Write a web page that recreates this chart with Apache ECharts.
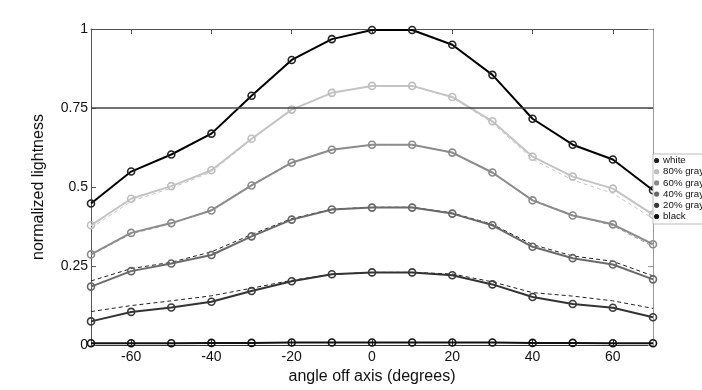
<!DOCTYPE html>
<html><head><meta charset="utf-8">
<script src="https://cdn.jsdelivr.net/npm/echarts@6/dist/echarts.min.js"></script>
<style>html,body{margin:0;padding:0;background:#fff}#c{width:702px;height:390px}</style>
</head><body><div id="c"></div>
<script>
const angles = [-70,-60,-50,-40,-30,-20,-10,0,10,20,30,40,50,60,70];
const seriesNames = ['white','80% gray','60% gray','40% gray','20% gray','black'];
const white   = [0.448,0.549,0.603,0.669,0.789,0.902,0.968,0.997,0.997,0.950,0.855,0.716,0.634,0.587,0.490];
const gray80  = [0.379,0.463,0.503,0.553,0.653,0.745,0.798,0.820,0.820,0.785,0.708,0.596,0.533,0.495,0.413];
const gray60  = [0.287,0.355,0.386,0.426,0.505,0.577,0.618,0.634,0.634,0.609,0.546,0.458,0.410,0.382,0.319];
const gray40  = [0.185,0.234,0.258,0.285,0.344,0.397,0.429,0.435,0.435,0.416,0.379,0.311,0.275,0.255,0.208];
const gray20  = [0.075,0.105,0.119,0.137,0.171,0.202,0.224,0.230,0.230,0.221,0.192,0.152,0.130,0.118,0.088];
const black   = [0.006,0.006,0.006,0.007,0.007,0.008,0.008,0.008,0.008,0.008,0.008,0.007,0.007,0.006,0.006];
// dashed reference curves
const ref80 = [0.370,0.455,0.497,0.548,0.650,0.745,0.798,0.820,0.820,0.783,0.703,0.588,0.522,0.480,0.400];
const ref60 = [0.285,0.352,0.384,0.428,0.507,0.578,0.618,0.634,0.634,0.608,0.544,0.460,0.412,0.378,0.312];
const ref40 = [0.203,0.242,0.262,0.295,0.350,0.400,0.430,0.436,0.436,0.418,0.382,0.318,0.282,0.265,0.219];
const ref20 = [0.106,0.125,0.140,0.156,0.180,0.205,0.224,0.230,0.230,0.225,0.200,0.166,0.155,0.140,0.116];
const xTickValues = [-60,-40,-20,0,20,40,60];
const yTickValues = [0,0.25,0.5,0.75,1];
const refLineValue = 0.75;

const pair = arr => angles.map((a,i)=>[a,arr[i]]);
const font = '"Liberation Sans", Arial, sans-serif';

function solid(name, data, color, width, mcolor){
  return {name, type:'line', data:pair(data), xAxisIndex:0, yAxisIndex:0,
    symbol:'circle', symbolSize:7, showSymbol:true,
    lineStyle:{color, width},
    itemStyle:{color:'rgba(255,255,255,0)', borderColor:mcolor||color, borderWidth:1.6},
    emphasis:{disabled:true}, z:3, animation:false};
}
function dashed(data, color){
  return {type:'line', data:pair(data), symbol:'none', lineStyle:{color, width:1, type:[4,3]},
    emphasis:{disabled:true}, z:2, animation:false, silent:true};
}

const series = [
  dashed(ref80,'#c8c8c8'), dashed(ref60,'#9a9a9a'), dashed(ref40,'#222'), dashed(ref20,'#222'),
  solid('white', white, '#000', 2, '#222'),
  solid('80% gray', gray80, '#c4c4c4', 2, '#bdbdbd'),
  solid('60% gray', gray60, '#8c8c8c', 2, '#8a8a8a'),
  solid('40% gray', gray40, '#6a6a6a', 2, '#666'),
  solid('20% gray', gray20, '#333', 2, '#3a3a3a'),
  solid('black', black, '#111', 2, '#111'),
];
series[4].markLine = {silent:true, symbol:'none', label:{show:false},
  lineStyle:{color:'#444', width:1.5, type:'solid'}, data:[{yAxis:refLineValue}], animation:false};

function axisLine(color){ return {show:true, onZero:false, lineStyle:{color, width:1}}; }

const chart = echarts.init(document.getElementById('c'), null, {renderer:'canvas'});
chart.setOption({
  animation:false,
  grid:{left:91, right:49, top:29, bottom:44},
  legend:{data:seriesNames, orient:'vertical', left:653, top:154,
    backgroundColor:'#fff', borderColor:'#bbb', borderWidth:1, padding:[1,0,2,1],
    itemWidth:3, itemHeight:4, itemGap:0.2,
    textStyle:{fontFamily:font, fontSize:9.7, lineHeight:11, color:'#111'}},
  xAxis:[
    {type:'value', min:-70, max:70, interval:10, position:'bottom',
      name:'angle off axis (degrees)', nameLocation:'middle', nameGap:22,
      nameTextStyle:{fontFamily:font, fontSize:16, color:'#111'},
      axisLine:axisLine('#333'), splitLine:{show:false},
      axisTick:{show:true, inside:true, length:5, customValues:xTickValues, lineStyle:{color:'#333'}},
      axisLabel:{customValues:xTickValues, fontFamily:font, fontSize:14, color:'#111', margin:5}},
    {type:'value', min:-70, max:70, interval:10, position:'top',
      axisLine:axisLine('#555'), splitLine:{show:false},
      axisTick:{show:true, inside:true, length:5, customValues:xTickValues, lineStyle:{color:'#555'}},
      axisLabel:{show:false}}
  ],
  yAxis:[
    {type:'value', min:0, max:1, interval:0.25, position:'left',
      name:'normalized lightness', nameLocation:'middle', nameGap:44,
      nameTextStyle:{fontFamily:font, fontSize:16, color:'#111'},
      axisLine:axisLine('#555'), splitLine:{show:false},
      axisTick:{show:true, inside:true, length:5, customValues:yTickValues, lineStyle:{color:'#555'}},
      axisLabel:{customValues:yTickValues, fontFamily:font, fontSize:14, color:'#111', margin:3,
        formatter:v=>String(+v.toFixed(2))}},
    {type:'value', min:0, max:1, interval:0.25, position:'right',
      axisLine:axisLine('#999'), splitLine:{show:false},
      axisTick:{show:true, inside:true, length:5, customValues:yTickValues, lineStyle:{color:'#999'}},
      axisLabel:{show:false}}
  ],
  series
});
</script></body></html>
